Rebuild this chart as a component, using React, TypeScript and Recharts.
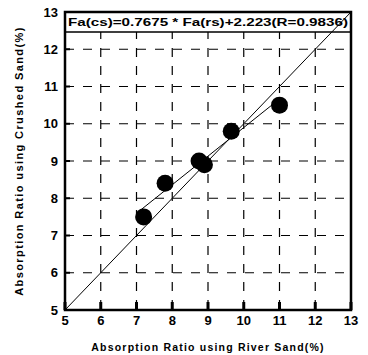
import React from 'react';
import { ComposedChart, Scatter, Line, XAxis, YAxis, CartesianGrid, ReferenceArea } from 'recharts';

const riverSand = [7.2, 7.8, 8.75, 8.9, 9.65, 11.0];
const crushedSand = [7.5, 8.4, 9.0, 8.9, 9.8, 10.5];
const ticks = [5, 6, 7, 8, 9, 10, 11, 12, 13];
const equalityLine = [5, 13];
const fitRange = [7.1, 11.0];
const slope = 0.7675;
const intercept = 2.223;
const equation = 'Fa(cs)=0.7675 * Fa(rs)+2.223(R=0.9836)';

const points = riverSand.map((x, i) => ({ x, y: crushedSand[i] }));
const diag = equalityLine.map((x) => ({ x, y: x }));
const fit = fitRange.map((x) => ({ x, y: slope * x + intercept }));

const font = '"Liberation Sans", Arial, sans-serif';

const EqLabel = (props: any) => {
  const vb = props.viewBox;
  return (
    <text x={vb.x + 3} y={vb.y + vb.height / 2 + 4} fontFamily={font} fontWeight="bold" fontSize={11.5}
      textLength={vb.width - 6} lengthAdjust="spacingAndGlyphs" fill="#000">{equation}</text>
  );
};

export default function App() {
  return (
    <div style={{ position: 'absolute', left: 0, top: 0, background: '#fff' }}>
      <ComposedChart width={368} height={355} margin={{ top: 12, right: 17, left: 25, bottom: 12 }}>
        <CartesianGrid stroke="#000" strokeWidth={1.2} strokeDasharray="9 9" />
        <XAxis type="number" dataKey="x" domain={[5, 13]} ticks={ticks} allowDataOverflow
          height={33} axisLine={{ stroke: '#000', strokeWidth: 2 }} tickLine={{ stroke: '#000', strokeWidth: 3 }}
          tickSize={-8} tickMargin={14}
          tick={{ fill: '#000', fontSize: 13, fontWeight: 'bold', fontFamily: font }}
          label={{ value: 'Absorption Ratio using River Sand(%)', position: 'insideBottom', offset: -8,
            style: { fill: '#000', fontSize: 10.5, fontWeight: 'bold', fontFamily: font, letterSpacing: 1.2 } }} />
        <YAxis type="number" dataKey="y" domain={[5, 13]} ticks={ticks} allowDataOverflow
          width={40} axisLine={{ stroke: '#000', strokeWidth: 2 }} tickLine={{ stroke: '#000', strokeWidth: 2 }}
          tickSize={-5} tickMargin={12}
          tick={{ fill: '#000', fontSize: 13, fontWeight: 'bold', fontFamily: font }}
          label={{ value: 'Absorption Ratio using Crushed Sand(%)', angle: -90, position: 'insideLeft', offset: -6,
            style: { textAnchor: 'middle', fill: '#000', fontSize: 11, fontWeight: 'bold', fontFamily: font, letterSpacing: 1.4 } }} />
        <ReferenceArea x1={5} x2={13} y1={12.46} y2={13} fill="#fff" fillOpacity={1} stroke="#000" strokeWidth={1.5}
          label={<EqLabel />} />
        <ReferenceArea x1={5} x2={13} y1={5} y2={13} fill="none" stroke="#000" strokeWidth={2.5} />
        <Line data={diag} dataKey="y" stroke="#000" strokeWidth={1} dot={false} isAnimationActive={false} />
        <Line data={fit} dataKey="y" stroke="#000" strokeWidth={1} dot={false} isAnimationActive={false} />
        <Scatter data={points} fill="#000" isAnimationActive={false}
          shape={(p: any) => <circle cx={p.cx} cy={p.cy} r={8.5} fill="#000" />} />
      </ComposedChart>
    </div>
  );
}
